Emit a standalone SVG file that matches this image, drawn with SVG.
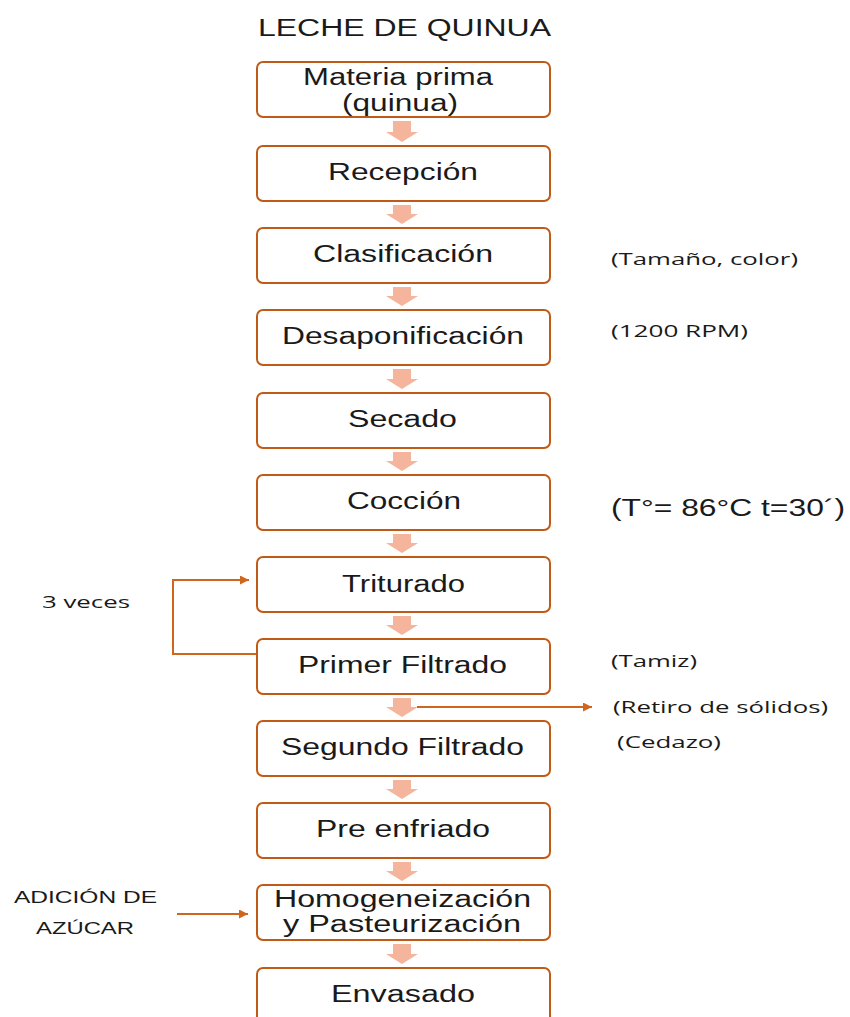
<svg xmlns="http://www.w3.org/2000/svg" width="850" height="1017" viewBox="0 0 850 1017">
<defs>
<style>
.box{fill:#fff;stroke:#c05a17;stroke-width:2}
.t{font-family:"Liberation Sans",Arial,sans-serif;font-size:23px;fill:#1a1a1a;text-anchor:start}
.n{font-family:"Open Sans","Liberation Sans",sans-serif;font-size:16px;fill:#1a1a1a}
.l{font-family:"Liberation Sans",Arial,sans-serif;font-size:17px;fill:#1a1a1a}
.ba{fill:#f4b59c}
.c{fill:none;stroke:#d0651d;stroke-width:2}
</style>
<marker id="ah2" viewBox="0 0 10 10" refX="10" refY="5" markerWidth="9" markerHeight="9" orient="auto" markerUnits="userSpaceOnUse"><path d="M0,0 L10,5 L0,10 z" fill="#d0651d"/></marker>
</defs>
<rect width="850" height="1017" fill="#fff"/>
<text class="t" x="258" y="36" font-size="24" textLength="293" lengthAdjust="spacingAndGlyphs">LECHE DE QUINUA</text>

<g id="connectors">
<path class="ba" d="M393,121 h18 v11 h7 l-16,10 l-16,-10 h7 z"/>
<path class="ba" d="M393,205 h18 v9 h7 l-16,10 l-16,-10 h7 z"/>
<path class="ba" d="M393,287 h18 v9 h7 l-16,10 l-16,-10 h7 z"/>
<path class="ba" d="M393,369 h18 v10 h7 l-16,10 l-16,-10 h7 z"/>
<path class="ba" d="M393,452 h18 v9 h7 l-16,10 l-16,-10 h7 z"/>
<path class="ba" d="M393,534 h18 v9 h7 l-16,10 l-16,-10 h7 z"/>
<path class="ba" d="M393,616 h18 v9 h7 l-16,10 l-16,-10 h7 z"/>
<path class="ba" d="M393,698 h18 v9 h7 l-16,10 l-16,-10 h7 z"/>
<path class="ba" d="M393,780 h18 v9 h7 l-16,10 l-16,-10 h7 z"/>
<path class="ba" d="M393,862 h18 v9 h7 l-16,10 l-16,-10 h7 z"/>
<path class="ba" d="M393,944 h18 v10 h7 l-16,10 l-16,-10 h7 z"/>
<polyline class="c" points="257,654 173,654 173,580 249,580" marker-end="url(#ah2)"/>
<line class="c" x1="417" y1="707" x2="592" y2="707" marker-end="url(#ah2)"/>
<line class="c" x1="177" y1="914" x2="248" y2="914" marker-end="url(#ah2)"/>
</g>

<g id="n1"><rect class="box" x="257" y="62" width="293" height="55" rx="6"/>
<text class="t" x="303" y="85" font-size="20" textLength="190" lengthAdjust="spacingAndGlyphs">Materia prima</text>
<text class="t" x="342" y="111" font-size="20" textLength="116" lengthAdjust="spacingAndGlyphs">(quinua)</text></g>
<g id="n2"><rect class="box" x="257" y="146" width="293" height="55" rx="6"/>
<text class="t" x="328" y="180" textLength="150" lengthAdjust="spacingAndGlyphs">Recepción</text></g>
<g id="n3"><rect class="box" x="257" y="228" width="293" height="55" rx="6"/>
<text class="t" x="313" y="262" textLength="180" lengthAdjust="spacingAndGlyphs">Clasificación</text></g>
<g id="n4"><rect class="box" x="257" y="310" width="293" height="55" rx="6"/>
<text class="t" x="282" y="344" textLength="242" lengthAdjust="spacingAndGlyphs">Desaponificación</text></g>
<g id="n5"><rect class="box" x="257" y="393" width="293" height="55" rx="6"/>
<text class="t" x="348" y="427" textLength="109" lengthAdjust="spacingAndGlyphs">Secado</text></g>
<g id="n6"><rect class="box" x="257" y="475" width="293" height="55" rx="6"/>
<text class="t" x="347" y="509" textLength="114" lengthAdjust="spacingAndGlyphs">Cocción</text></g>
<g id="n7"><rect class="box" x="257" y="557" width="293" height="55" rx="6"/>
<text class="t" x="342" y="592" textLength="123" lengthAdjust="spacingAndGlyphs">Triturado</text></g>
<g id="n8"><rect class="box" x="257" y="639" width="293" height="55" rx="6"/>
<text class="t" x="298" y="673" textLength="209" lengthAdjust="spacingAndGlyphs">Primer Filtrado</text></g>
<g id="n9"><rect class="box" x="257" y="721" width="293" height="55" rx="6"/>
<text class="t" x="281" y="755" textLength="243" lengthAdjust="spacingAndGlyphs">Segundo Filtrado</text></g>
<g id="n10"><rect class="box" x="257" y="803" width="293" height="55" rx="6"/>
<text class="t" x="316" y="837" textLength="174" lengthAdjust="spacingAndGlyphs">Pre enfriado</text></g>
<g id="n11"><rect class="box" x="257" y="885" width="293" height="55" rx="6"/>
<text class="t" x="274" y="907" font-size="22" textLength="257" lengthAdjust="spacingAndGlyphs">Homogeneización</text>
<text class="t" x="283" y="932" font-size="22" textLength="238" lengthAdjust="spacingAndGlyphs">y Pasteurización</text></g>
<g id="n12"><rect class="box" x="257" y="968" width="293" height="60" rx="6"/>
<text class="t" x="331" y="1002" textLength="144" lengthAdjust="spacingAndGlyphs">Envasado</text></g>

<g id="notes">
<text class="n" x="611" y="265" textLength="187" lengthAdjust="spacingAndGlyphs">(Tamaño, color)</text>
<text class="n" x="611" y="337" textLength="137" lengthAdjust="spacingAndGlyphs">(1200 RPM)</text>
<text class="t" x="611" y="516" font-size="24" textLength="234" lengthAdjust="spacingAndGlyphs">(T°= 86°C t=30´)</text>
<text class="n" x="42" y="608" textLength="88" lengthAdjust="spacingAndGlyphs">3 veces</text>
<text class="n" x="611" y="667" textLength="86" lengthAdjust="spacingAndGlyphs">(Tamiz)</text>
<text class="n" x="613" y="713" textLength="215" lengthAdjust="spacingAndGlyphs">(Retiro de sólidos)</text>
<text class="n" x="617" y="748" textLength="104" lengthAdjust="spacingAndGlyphs">(Cedazo)</text>
<text class="l" x="14" y="903" textLength="143" lengthAdjust="spacingAndGlyphs">ADICIÓN DE</text>
<text class="l" x="36" y="934" textLength="98" lengthAdjust="spacingAndGlyphs">AZÚCAR</text>
</g>
</svg>
